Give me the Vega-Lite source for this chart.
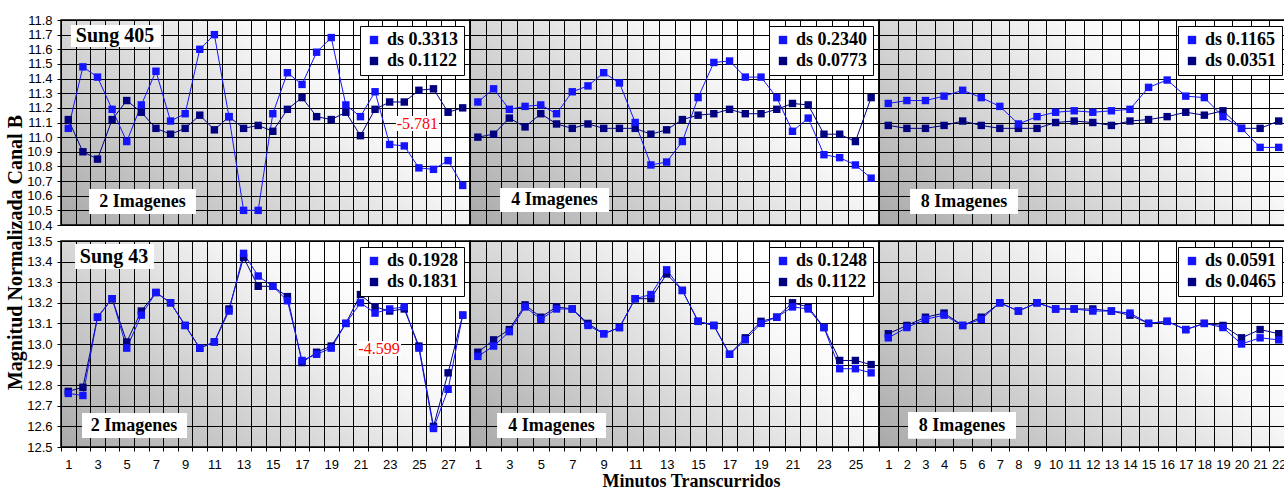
{
"$schema": "https://vega.github.io/schema/vega-lite/v6.json",
"padding": {"left": 4, "top": 13, "right": 0, "bottom": 0},
"background": "white",
"bounds": "flush",
"columns": 3,
"spacing": {"row": 16, "column": 0},
"resolve": {"scale": {"x": "independent", "y": "independent", "color": "independent"}, "legend": {"color": "independent"}},
"config": {
  "view": {"stroke": "#000", "strokeWidth": 1.5, "fill": {"gradient": "linear", "x1": 0, "y1": 1, "x2": 0.9, "y2": 0.45, "stops": [{"offset": 0, "color": "#a9a9a9"}, {"offset": 0.45, "color": "#d3d3d3"}, {"offset": 0.85, "color": "#f7f7f7"}, {"offset": 1, "color": "#ffffff"}]}},
  "axis": {"grid": true, "tickCount": 200, "gridColor": "#000", "gridOpacity": 1, "gridWidth": 1, "tickColor": "#000", "tickSize": 4, "labelFont": "Liberation Sans", "labelFontSize": 13, "labelColor": "#000", "labelPadding": 5, "titleFont": "Liberation Serif", "titleFontWeight": "bold", "titleColor": "#000", "labelOverlap": false, "labelFlush": false, "domain": false},
  "legend": {"orient": "top-right", "offset": 6, "fillColor": "#fff", "strokeColor": "#000", "padding": 5, "labelFont": "Liberation Serif", "labelFontWeight": "bold", "labelFontSize": 18, "labelColor": "#000", "symbolType": "square", "symbolSize": 70, "rowPadding": 3, "symbolStrokeWidth": 0, "labelLimit": 300},
  "text": {"font": "Liberation Serif", "fontWeight": "bold", "color": "#000", "align": "center", "baseline": "middle"},
  "rect": {"color": "#fff"}
},
"datasets": {
"a1": [
{"m":1,"s":"ds 0.1122","v":11.12},{"m":2,"s":"ds 0.1122","v":10.90},{"m":3,"s":"ds 0.1122","v":10.85},{"m":4,"s":"ds 0.1122","v":11.12},{"m":5,"s":"ds 0.1122","v":11.25},{"m":6,"s":"ds 0.1122","v":11.17},{"m":7,"s":"ds 0.1122","v":11.06},{"m":8,"s":"ds 0.1122","v":11.02},{"m":9,"s":"ds 0.1122","v":11.06},{"m":10,"s":"ds 0.1122","v":11.15},{"m":11,"s":"ds 0.1122","v":11.05},{"m":12,"s":"ds 0.1122","v":11.14},{"m":13,"s":"ds 0.1122","v":11.06},{"m":14,"s":"ds 0.1122","v":11.08},{"m":15,"s":"ds 0.1122","v":11.04},{"m":16,"s":"ds 0.1122","v":11.19},{"m":17,"s":"ds 0.1122","v":11.27},{"m":18,"s":"ds 0.1122","v":11.14},{"m":19,"s":"ds 0.1122","v":11.12},{"m":20,"s":"ds 0.1122","v":11.17},{"m":21,"s":"ds 0.1122","v":11.01},{"m":22,"s":"ds 0.1122","v":11.19},{"m":23,"s":"ds 0.1122","v":11.24},{"m":24,"s":"ds 0.1122","v":11.24},{"m":25,"s":"ds 0.1122","v":11.32},{"m":26,"s":"ds 0.1122","v":11.33},{"m":27,"s":"ds 0.1122","v":11.17},{"m":28,"s":"ds 0.1122","v":11.20},
{"m":1,"s":"ds 0.3313","v":11.06},{"m":2,"s":"ds 0.3313","v":11.48},{"m":3,"s":"ds 0.3313","v":11.41},{"m":4,"s":"ds 0.3313","v":11.19},{"m":5,"s":"ds 0.3313","v":10.97},{"m":6,"s":"ds 0.3313","v":11.22},{"m":7,"s":"ds 0.3313","v":11.45},{"m":8,"s":"ds 0.3313","v":11.11},{"m":9,"s":"ds 0.3313","v":11.16},{"m":10,"s":"ds 0.3313","v":11.60},{"m":11,"s":"ds 0.3313","v":11.70},{"m":12,"s":"ds 0.3313","v":11.14},{"m":13,"s":"ds 0.3313","v":10.50},{"m":14,"s":"ds 0.3313","v":10.50},{"m":15,"s":"ds 0.3313","v":11.16},{"m":16,"s":"ds 0.3313","v":11.44},{"m":17,"s":"ds 0.3313","v":11.36},{"m":18,"s":"ds 0.3313","v":11.58},{"m":19,"s":"ds 0.3313","v":11.68},{"m":20,"s":"ds 0.3313","v":11.22},{"m":21,"s":"ds 0.3313","v":11.14},{"m":22,"s":"ds 0.3313","v":11.31},{"m":23,"s":"ds 0.3313","v":10.95},{"m":24,"s":"ds 0.3313","v":10.94},{"m":25,"s":"ds 0.3313","v":10.79},{"m":26,"s":"ds 0.3313","v":10.78},{"m":27,"s":"ds 0.3313","v":10.84},{"m":28,"s":"ds 0.3313","v":10.67}
],
"a2": [
{"m":1,"s":"ds 0.0773","v":11.00},{"m":2,"s":"ds 0.0773","v":11.02},{"m":3,"s":"ds 0.0773","v":11.13},{"m":4,"s":"ds 0.0773","v":11.07},{"m":5,"s":"ds 0.0773","v":11.16},{"m":6,"s":"ds 0.0773","v":11.09},{"m":7,"s":"ds 0.0773","v":11.06},{"m":8,"s":"ds 0.0773","v":11.09},{"m":9,"s":"ds 0.0773","v":11.06},{"m":10,"s":"ds 0.0773","v":11.06},{"m":11,"s":"ds 0.0773","v":11.06},{"m":12,"s":"ds 0.0773","v":11.02},{"m":13,"s":"ds 0.0773","v":11.05},{"m":14,"s":"ds 0.0773","v":11.12},{"m":15,"s":"ds 0.0773","v":11.15},{"m":16,"s":"ds 0.0773","v":11.16},{"m":17,"s":"ds 0.0773","v":11.19},{"m":18,"s":"ds 0.0773","v":11.16},{"m":19,"s":"ds 0.0773","v":11.16},{"m":20,"s":"ds 0.0773","v":11.19},{"m":21,"s":"ds 0.0773","v":11.23},{"m":22,"s":"ds 0.0773","v":11.22},{"m":23,"s":"ds 0.0773","v":11.02},{"m":24,"s":"ds 0.0773","v":11.02},{"m":25,"s":"ds 0.0773","v":10.97},{"m":26,"s":"ds 0.0773","v":11.27},
{"m":1,"s":"ds 0.2340","v":11.24},{"m":2,"s":"ds 0.2340","v":11.33},{"m":3,"s":"ds 0.2340","v":11.19},{"m":4,"s":"ds 0.2340","v":11.21},{"m":5,"s":"ds 0.2340","v":11.22},{"m":6,"s":"ds 0.2340","v":11.16},{"m":7,"s":"ds 0.2340","v":11.31},{"m":8,"s":"ds 0.2340","v":11.35},{"m":9,"s":"ds 0.2340","v":11.44},{"m":10,"s":"ds 0.2340","v":11.37},{"m":11,"s":"ds 0.2340","v":11.10},{"m":12,"s":"ds 0.2340","v":10.81},{"m":13,"s":"ds 0.2340","v":10.83},{"m":14,"s":"ds 0.2340","v":10.97},{"m":15,"s":"ds 0.2340","v":11.27},{"m":16,"s":"ds 0.2340","v":11.51},{"m":17,"s":"ds 0.2340","v":11.52},{"m":18,"s":"ds 0.2340","v":11.41},{"m":19,"s":"ds 0.2340","v":11.41},{"m":20,"s":"ds 0.2340","v":11.27},{"m":21,"s":"ds 0.2340","v":11.04},{"m":22,"s":"ds 0.2340","v":11.13},{"m":23,"s":"ds 0.2340","v":10.88},{"m":24,"s":"ds 0.2340","v":10.86},{"m":25,"s":"ds 0.2340","v":10.81},{"m":26,"s":"ds 0.2340","v":10.72}
],
"a3": [
{"m":1,"s":"ds 0.0351","v":11.08},{"m":2,"s":"ds 0.0351","v":11.06},{"m":3,"s":"ds 0.0351","v":11.06},{"m":4,"s":"ds 0.0351","v":11.08},{"m":5,"s":"ds 0.0351","v":11.11},{"m":6,"s":"ds 0.0351","v":11.08},{"m":7,"s":"ds 0.0351","v":11.06},{"m":8,"s":"ds 0.0351","v":11.06},{"m":9,"s":"ds 0.0351","v":11.06},{"m":10,"s":"ds 0.0351","v":11.10},{"m":11,"s":"ds 0.0351","v":11.11},{"m":12,"s":"ds 0.0351","v":11.10},{"m":13,"s":"ds 0.0351","v":11.08},{"m":14,"s":"ds 0.0351","v":11.11},{"m":15,"s":"ds 0.0351","v":11.12},{"m":16,"s":"ds 0.0351","v":11.14},{"m":17,"s":"ds 0.0351","v":11.17},{"m":18,"s":"ds 0.0351","v":11.15},{"m":19,"s":"ds 0.0351","v":11.18},{"m":20,"s":"ds 0.0351","v":11.06},{"m":21,"s":"ds 0.0351","v":11.06},{"m":22,"s":"ds 0.0351","v":11.11},
{"m":1,"s":"ds 0.1165","v":11.23},{"m":2,"s":"ds 0.1165","v":11.25},{"m":3,"s":"ds 0.1165","v":11.25},{"m":4,"s":"ds 0.1165","v":11.28},{"m":5,"s":"ds 0.1165","v":11.32},{"m":6,"s":"ds 0.1165","v":11.27},{"m":7,"s":"ds 0.1165","v":11.21},{"m":8,"s":"ds 0.1165","v":11.09},{"m":9,"s":"ds 0.1165","v":11.14},{"m":10,"s":"ds 0.1165","v":11.17},{"m":11,"s":"ds 0.1165","v":11.18},{"m":12,"s":"ds 0.1165","v":11.17},{"m":13,"s":"ds 0.1165","v":11.18},{"m":14,"s":"ds 0.1165","v":11.19},{"m":15,"s":"ds 0.1165","v":11.34},{"m":16,"s":"ds 0.1165","v":11.39},{"m":17,"s":"ds 0.1165","v":11.28},{"m":18,"s":"ds 0.1165","v":11.27},{"m":19,"s":"ds 0.1165","v":11.14},{"m":20,"s":"ds 0.1165","v":11.06},{"m":21,"s":"ds 0.1165","v":10.93},{"m":22,"s":"ds 0.1165","v":10.93}
],
"b1": [
{"m":1,"s":"ds 0.1831","v":12.77},{"m":2,"s":"ds 0.1831","v":12.79},{"m":3,"s":"ds 0.1831","v":13.13},{"m":4,"s":"ds 0.1831","v":13.22},{"m":5,"s":"ds 0.1831","v":13.01},{"m":6,"s":"ds 0.1831","v":13.16},{"m":7,"s":"ds 0.1831","v":13.25},{"m":8,"s":"ds 0.1831","v":13.20},{"m":9,"s":"ds 0.1831","v":13.09},{"m":10,"s":"ds 0.1831","v":12.98},{"m":11,"s":"ds 0.1831","v":13.01},{"m":12,"s":"ds 0.1831","v":13.17},{"m":13,"s":"ds 0.1831","v":13.42},{"m":14,"s":"ds 0.1831","v":13.28},{"m":15,"s":"ds 0.1831","v":13.28},{"m":16,"s":"ds 0.1831","v":13.23},{"m":17,"s":"ds 0.1831","v":12.91},{"m":18,"s":"ds 0.1831","v":12.96},{"m":19,"s":"ds 0.1831","v":12.99},{"m":20,"s":"ds 0.1831","v":13.10},{"m":21,"s":"ds 0.1831","v":13.24},{"m":22,"s":"ds 0.1831","v":13.18},{"m":23,"s":"ds 0.1831","v":13.16},{"m":24,"s":"ds 0.1831","v":13.17},{"m":25,"s":"ds 0.1831","v":12.99},{"m":26,"s":"ds 0.1831","v":12.60},{"m":27,"s":"ds 0.1831","v":12.86},{"m":28,"s":"ds 0.1831","v":13.14},
{"m":1,"s":"ds 0.1928","v":12.76},{"m":2,"s":"ds 0.1928","v":12.75},{"m":3,"s":"ds 0.1928","v":13.13},{"m":4,"s":"ds 0.1928","v":13.22},{"m":5,"s":"ds 0.1928","v":12.98},{"m":6,"s":"ds 0.1928","v":13.14},{"m":7,"s":"ds 0.1928","v":13.25},{"m":8,"s":"ds 0.1928","v":13.20},{"m":9,"s":"ds 0.1928","v":13.09},{"m":10,"s":"ds 0.1928","v":12.98},{"m":11,"s":"ds 0.1928","v":13.01},{"m":12,"s":"ds 0.1928","v":13.16},{"m":13,"s":"ds 0.1928","v":13.44},{"m":14,"s":"ds 0.1928","v":13.33},{"m":15,"s":"ds 0.1928","v":13.28},{"m":16,"s":"ds 0.1928","v":13.21},{"m":17,"s":"ds 0.1928","v":12.92},{"m":18,"s":"ds 0.1928","v":12.95},{"m":19,"s":"ds 0.1928","v":12.98},{"m":20,"s":"ds 0.1928","v":13.10},{"m":21,"s":"ds 0.1928","v":13.20},{"m":22,"s":"ds 0.1928","v":13.15},{"m":23,"s":"ds 0.1928","v":13.17},{"m":24,"s":"ds 0.1928","v":13.18},{"m":25,"s":"ds 0.1928","v":12.98},{"m":26,"s":"ds 0.1928","v":12.59},{"m":27,"s":"ds 0.1928","v":12.78},{"m":28,"s":"ds 0.1928","v":13.14}
],
"b2": [
{"m":1,"s":"ds 0.1122","v":12.96},{"m":2,"s":"ds 0.1122","v":13.02},{"m":3,"s":"ds 0.1122","v":13.07},{"m":4,"s":"ds 0.1122","v":13.19},{"m":5,"s":"ds 0.1122","v":13.13},{"m":6,"s":"ds 0.1122","v":13.18},{"m":7,"s":"ds 0.1122","v":13.17},{"m":8,"s":"ds 0.1122","v":13.10},{"m":9,"s":"ds 0.1122","v":13.05},{"m":10,"s":"ds 0.1122","v":13.08},{"m":11,"s":"ds 0.1122","v":13.22},{"m":12,"s":"ds 0.1122","v":13.22},{"m":13,"s":"ds 0.1122","v":13.34},{"m":14,"s":"ds 0.1122","v":13.26},{"m":15,"s":"ds 0.1122","v":13.11},{"m":16,"s":"ds 0.1122","v":13.09},{"m":17,"s":"ds 0.1122","v":12.95},{"m":18,"s":"ds 0.1122","v":13.03},{"m":19,"s":"ds 0.1122","v":13.11},{"m":20,"s":"ds 0.1122","v":13.13},{"m":21,"s":"ds 0.1122","v":13.20},{"m":22,"s":"ds 0.1122","v":13.18},{"m":23,"s":"ds 0.1122","v":13.08},{"m":24,"s":"ds 0.1122","v":12.92},{"m":25,"s":"ds 0.1122","v":12.92},{"m":26,"s":"ds 0.1122","v":12.90},
{"m":1,"s":"ds 0.1248","v":12.94},{"m":2,"s":"ds 0.1248","v":12.99},{"m":3,"s":"ds 0.1248","v":13.06},{"m":4,"s":"ds 0.1248","v":13.18},{"m":5,"s":"ds 0.1248","v":13.12},{"m":6,"s":"ds 0.1248","v":13.17},{"m":7,"s":"ds 0.1248","v":13.17},{"m":8,"s":"ds 0.1248","v":13.09},{"m":9,"s":"ds 0.1248","v":13.05},{"m":10,"s":"ds 0.1248","v":13.08},{"m":11,"s":"ds 0.1248","v":13.22},{"m":12,"s":"ds 0.1248","v":13.24},{"m":13,"s":"ds 0.1248","v":13.36},{"m":14,"s":"ds 0.1248","v":13.26},{"m":15,"s":"ds 0.1248","v":13.11},{"m":16,"s":"ds 0.1248","v":13.09},{"m":17,"s":"ds 0.1248","v":12.95},{"m":18,"s":"ds 0.1248","v":13.02},{"m":19,"s":"ds 0.1248","v":13.10},{"m":20,"s":"ds 0.1248","v":13.13},{"m":21,"s":"ds 0.1248","v":13.18},{"m":22,"s":"ds 0.1248","v":13.17},{"m":23,"s":"ds 0.1248","v":13.08},{"m":24,"s":"ds 0.1248","v":12.88},{"m":25,"s":"ds 0.1248","v":12.88},{"m":26,"s":"ds 0.1248","v":12.86}
],
"b3": [
{"m":1,"s":"ds 0.0465","v":13.05},{"m":2,"s":"ds 0.0465","v":13.09},{"m":3,"s":"ds 0.0465","v":13.13},{"m":4,"s":"ds 0.0465","v":13.15},{"m":5,"s":"ds 0.0465","v":13.09},{"m":6,"s":"ds 0.0465","v":13.13},{"m":7,"s":"ds 0.0465","v":13.20},{"m":8,"s":"ds 0.0465","v":13.16},{"m":9,"s":"ds 0.0465","v":13.20},{"m":10,"s":"ds 0.0465","v":13.17},{"m":11,"s":"ds 0.0465","v":13.17},{"m":12,"s":"ds 0.0465","v":13.17},{"m":13,"s":"ds 0.0465","v":13.16},{"m":14,"s":"ds 0.0465","v":13.14},{"m":15,"s":"ds 0.0465","v":13.10},{"m":16,"s":"ds 0.0465","v":13.11},{"m":17,"s":"ds 0.0465","v":13.07},{"m":18,"s":"ds 0.0465","v":13.10},{"m":19,"s":"ds 0.0465","v":13.09},{"m":20,"s":"ds 0.0465","v":13.03},{"m":21,"s":"ds 0.0465","v":13.07},{"m":22,"s":"ds 0.0465","v":13.05},
{"m":1,"s":"ds 0.0591","v":13.03},{"m":2,"s":"ds 0.0591","v":13.08},{"m":3,"s":"ds 0.0591","v":13.12},{"m":4,"s":"ds 0.0591","v":13.14},{"m":5,"s":"ds 0.0591","v":13.09},{"m":6,"s":"ds 0.0591","v":13.12},{"m":7,"s":"ds 0.0591","v":13.20},{"m":8,"s":"ds 0.0591","v":13.16},{"m":9,"s":"ds 0.0591","v":13.20},{"m":10,"s":"ds 0.0591","v":13.17},{"m":11,"s":"ds 0.0591","v":13.17},{"m":12,"s":"ds 0.0591","v":13.16},{"m":13,"s":"ds 0.0591","v":13.16},{"m":14,"s":"ds 0.0591","v":13.15},{"m":15,"s":"ds 0.0591","v":13.10},{"m":16,"s":"ds 0.0591","v":13.11},{"m":17,"s":"ds 0.0591","v":13.07},{"m":18,"s":"ds 0.0591","v":13.10},{"m":19,"s":"ds 0.0591","v":13.08},{"m":20,"s":"ds 0.0591","v":13.00},{"m":21,"s":"ds 0.0591","v":13.03},{"m":22,"s":"ds 0.0591","v":13.02}
]
},
"concat": [
{
  "width": 409, "height": 205,
  "data": {"name": "a1"},
  "layer": [
    {"mark": {"type": "line", "strokeWidth": 1, "point": {"shape": "square", "filled": true, "size": 55, "opacity": 1}},
     "encoding": {
       "x": {"field": "m", "type": "quantitative", "scale": {"domain": [0.5, 28.5], "nice": false, "zero": false}, "axis": {"tickCount": 200, "values": [0.5,1.5,2.5,3.5,4.5,5.5,6.5,7.5,8.5,9.5,10.5,11.5,12.5,13.5,14.5,15.5,16.5,17.5,18.5,19.5,20.5,21.5,22.5,23.5,24.5,25.5,26.5,27.5], "labels": false, "ticks": false, "title": null}},
       "y": {"field": "v", "type": "quantitative", "scale": {"domain": [10.4, 11.8], "nice": false, "zero": false}, "axis": {"tickCount": 200, "values": [10.4,10.5,10.6,10.7,10.8,10.9,11.0,11.1,11.2,11.3,11.4,11.5,11.6,11.7,11.8], "format": ".1f", "title": "Magnitud Normalizada Canal B", "titleFontSize": 20, "titleAngle": -90, "titleX": -46, "titleY": 232, "titleBaseline": "middle", "titleAlign": "center"}},
       "color": {"field": "s", "type": "nominal", "scale": {"domain": ["ds 0.3313", "ds 0.1122"], "range": ["#1414ff", "#000080"]}, "legend": {"title": null}}
     }},
    {"data": {"values": [{}]}, "mark": "rect", "encoding": {"x": {"datum": 1.18}, "x2": {"datum": 7.35}, "y": {"datum": 11.616}, "y2": {"datum": 11.766}}},
    {"data": {"values": [{}]}, "mark": {"type": "text", "text": "Sung 405", "fontSize": 20}, "encoding": {"x": {"datum": 4.2}, "y": {"datum": 11.69}}},
    {"data": {"values": [{}]}, "mark": "rect", "encoding": {"x": {"datum": 2.42}, "x2": {"datum": 9.74}, "y": {"datum": 10.475}, "y2": {"datum": 10.646}}},
    {"data": {"values": [{}]}, "mark": {"type": "text", "text": "2 Imagenes", "fontSize": 18}, "encoding": {"x": {"datum": 6.08}, "y": {"datum": 10.56}}},
    {"data": {"values": [{}]}, "mark": "rect", "encoding": {"x": {"datum": 23.43}, "x2": {"datum": 26.38}, "y": {"datum": 11.042}, "y2": {"datum": 11.144}}},
    {"data": {"values": [{}]}, "mark": {"type": "text", "text": "-5.781", "fontSize": 16, "fontWeight": "normal", "color": "#ff0000"}, "encoding": {"x": {"datum": 24.9}, "y": {"datum": 11.093}}}
  ]
},
{
  "width": 409, "height": 205,
  "data": {"name": "a2"},
  "layer": [
    {"mark": {"type": "line", "strokeWidth": 1, "point": {"shape": "square", "filled": true, "size": 55, "opacity": 1}},
     "encoding": {
       "x": {"field": "m", "type": "quantitative", "scale": {"domain": [0.5, 26.5], "nice": false, "zero": false}, "axis": {"tickCount": 200, "values": [0.5,1.5,2.5,3.5,4.5,5.5,6.5,7.5,8.5,9.5,10.5,11.5,12.5,13.5,14.5,15.5,16.5,17.5,18.5,19.5,20.5,21.5,22.5,23.5,24.5,25.5], "labels": false, "ticks": false, "title": null}},
       "y": {"field": "v", "type": "quantitative", "scale": {"domain": [10.4, 11.8], "nice": false, "zero": false}, "axis": {"tickCount": 200, "values": [10.4,10.5,10.6,10.7,10.8,10.9,11.0,11.1,11.2,11.3,11.4,11.5,11.6,11.7,11.8], "labels": false, "ticks": false, "title": null}},
       "color": {"field": "s", "type": "nominal", "scale": {"domain": ["ds 0.2340", "ds 0.0773"], "range": ["#1414ff", "#000080"]}, "legend": {"title": null}}
     }},
    {"data": {"values": [{}]}, "mark": "rect", "encoding": {"x": {"datum": 2.41}, "x2": {"datum": 9.34}, "y": {"datum": 10.489}, "y2": {"datum": 10.653}}},
    {"data": {"values": [{}]}, "mark": {"type": "text", "text": "4 Imagenes", "fontSize": 18}, "encoding": {"x": {"datum": 5.87}, "y": {"datum": 10.57}}}
  ]
},
{
  "width": 409, "height": 205,
  "data": {"name": "a3"},
  "layer": [
    {"mark": {"type": "line", "strokeWidth": 1, "point": {"shape": "square", "filled": true, "size": 55, "opacity": 1}},
     "encoding": {
       "x": {"field": "m", "type": "quantitative", "scale": {"domain": [0.5, 22.5], "nice": false, "zero": false}, "axis": {"tickCount": 200, "values": [0.5,1.5,2.5,3.5,4.5,5.5,6.5,7.5,8.5,9.5,10.5,11.5,12.5,13.5,14.5,15.5,16.5,17.5,18.5,19.5,20.5,21.5], "labels": false, "ticks": false, "title": null}},
       "y": {"field": "v", "type": "quantitative", "scale": {"domain": [10.4, 11.8], "nice": false, "zero": false}, "axis": {"tickCount": 200, "values": [10.4,10.5,10.6,10.7,10.8,10.9,11.0,11.1,11.2,11.3,11.4,11.5,11.6,11.7,11.8], "labels": false, "ticks": false, "title": null}},
       "color": {"field": "s", "type": "nominal", "scale": {"domain": ["ds 0.1165", "ds 0.0351"], "range": ["#1414ff", "#000080"]}, "legend": {"title": null}}
     }},
    {"data": {"values": [{}]}, "mark": "rect", "encoding": {"x": {"datum": 2.17}, "x2": {"datum": 7.98}, "y": {"datum": 10.475}, "y2": {"datum": 10.646}}},
    {"data": {"values": [{}]}, "mark": {"type": "text", "text": "8 Imagenes", "fontSize": 18}, "encoding": {"x": {"datum": 5.07}, "y": {"datum": 10.56}}}
  ]
},
{
  "width": 409, "height": 206,
  "data": {"name": "b1"},
  "layer": [
    {"mark": {"type": "line", "strokeWidth": 1, "point": {"shape": "square", "filled": true, "size": 55, "opacity": 1}},
     "encoding": {
       "x": {"field": "m", "type": "quantitative", "scale": {"domain": [0.5, 28.5], "nice": false, "zero": false}, "axis": {"tickCount": 200, "values": [0.5,1.5,2.5,3.5,4.5,5.5,6.5,7.5,8.5,9.5,10.5,11.5,12.5,13.5,14.5,15.5,16.5,17.5,18.5,19.5,20.5,21.5,22.5,23.5,24.5,25.5,26.5,27.5], "labelExpr": "datum.value % 2 == 0.5 ? format(datum.value + 0.5, 'd') : ''", "labelOffset": 7.3, "labelPadding": 7, "title": null}},
       "y": {"field": "v", "type": "quantitative", "scale": {"domain": [12.5, 13.5], "nice": false, "zero": false}, "axis": {"tickCount": 200, "values": [12.5,12.6,12.7,12.8,12.9,13.0,13.1,13.2,13.3,13.4,13.5], "format": ".1f", "title": null}},
       "color": {"field": "s", "type": "nominal", "scale": {"domain": ["ds 0.1928", "ds 0.1831"], "range": ["#1414ff", "#000080"]}, "legend": {"title": null}}
     }},
    {"data": {"values": [{}]}, "mark": "rect", "encoding": {"x": {"datum": 1.46}, "x2": {"datum": 6.87}, "y": {"datum": 13.364}, "y2": {"datum": 13.485}}},
    {"data": {"values": [{}]}, "mark": {"type": "text", "text": "Sung 43", "fontSize": 20}, "encoding": {"x": {"datum": 4.13}, "y": {"datum": 13.42}}},
    {"data": {"values": [{}]}, "mark": "rect", "encoding": {"x": {"datum": 1.94}, "x2": {"datum": 9.13}, "y": {"datum": 12.544}, "y2": {"datum": 12.665}}},
    {"data": {"values": [{}]}, "mark": {"type": "text", "text": "2 Imagenes", "fontSize": 18}, "encoding": {"x": {"datum": 5.5}, "y": {"datum": 12.60}}},
    {"data": {"values": [{}]}, "mark": "rect", "encoding": {"x": {"datum": 20.76}, "x2": {"datum": 23.78}, "y": {"datum": 12.942}, "y2": {"datum": 13.015}}},
    {"data": {"values": [{}]}, "mark": {"type": "text", "text": "-4.599", "fontSize": 16, "fontWeight": "normal", "color": "#ff0000"}, "encoding": {"x": {"datum": 22.27}, "y": {"datum": 12.978}}}
  ]
},
{
  "width": 409, "height": 206,
  "data": {"name": "b2"},
  "layer": [
    {"mark": {"type": "line", "strokeWidth": 1, "point": {"shape": "square", "filled": true, "size": 55, "opacity": 1}},
     "encoding": {
       "x": {"field": "m", "type": "quantitative", "scale": {"domain": [0.5, 26.5], "nice": false, "zero": false}, "axis": {"tickCount": 200, "values": [0.5,1.5,2.5,3.5,4.5,5.5,6.5,7.5,8.5,9.5,10.5,11.5,12.5,13.5,14.5,15.5,16.5,17.5,18.5,19.5,20.5,21.5,22.5,23.5,24.5,25.5], "labelExpr": "datum.value % 2 == 0.5 ? format(datum.value + 0.5, 'd') : ''", "labelOffset": 7.87, "labelPadding": 7, "title": "Minutos Transcurridos", "titleFontSize": 18, "titleX": 221, "titleY": 34, "titleBaseline": "middle", "titleAlign": "center"}},
       "y": {"field": "v", "type": "quantitative", "scale": {"domain": [12.5, 13.5], "nice": false, "zero": false}, "axis": {"tickCount": 200, "values": [12.5,12.6,12.7,12.8,12.9,13.0,13.1,13.2,13.3,13.4,13.5], "labels": false, "ticks": false, "title": null}},
       "color": {"field": "s", "type": "nominal", "scale": {"domain": ["ds 0.1248", "ds 0.1122"], "range": ["#1414ff", "#000080"]}, "legend": {"title": null}}
     }},
    {"data": {"values": [{}]}, "mark": "rect", "encoding": {"x": {"datum": 2.22}, "x2": {"datum": 9.15}, "y": {"datum": 12.544}, "y2": {"datum": 12.665}}},
    {"data": {"values": [{}]}, "mark": {"type": "text", "text": "4 Imagenes", "fontSize": 18}, "encoding": {"x": {"datum": 5.68}, "y": {"datum": 12.60}}}
  ]
},
{
  "width": 409, "height": 206,
  "data": {"name": "b3"},
  "layer": [
    {"mark": {"type": "line", "strokeWidth": 1, "point": {"shape": "square", "filled": true, "size": 55, "opacity": 1}},
     "encoding": {
       "x": {"field": "m", "type": "quantitative", "scale": {"domain": [0.5, 22.5], "nice": false, "zero": false}, "axis": {"tickCount": 200, "values": [0.5,1.5,2.5,3.5,4.5,5.5,6.5,7.5,8.5,9.5,10.5,11.5,12.5,13.5,14.5,15.5,16.5,17.5,18.5,19.5,20.5,21.5], "labelExpr": "format(datum.value + 0.5, 'd')", "labelOffset": 9.3, "labelPadding": 7, "title": null}},
       "y": {"field": "v", "type": "quantitative", "scale": {"domain": [12.5, 13.5], "nice": false, "zero": false}, "axis": {"tickCount": 200, "values": [12.5,12.6,12.7,12.8,12.9,13.0,13.1,13.2,13.3,13.4,13.5], "labels": false, "ticks": false, "title": null}},
       "color": {"field": "s", "type": "nominal", "scale": {"domain": ["ds 0.0591", "ds 0.0465"], "range": ["#1414ff", "#000080"]}, "legend": {"title": null}}
     }},
    {"data": {"values": [{}]}, "mark": "rect", "encoding": {"x": {"datum": 2.06}, "x2": {"datum": 7.87}, "y": {"datum": 12.54}, "y2": {"datum": 12.67}}},
    {"data": {"values": [{}]}, "mark": {"type": "text", "text": "8 Imagenes", "fontSize": 18}, "encoding": {"x": {"datum": 4.96}, "y": {"datum": 12.60}}}
  ]
}
]
}
